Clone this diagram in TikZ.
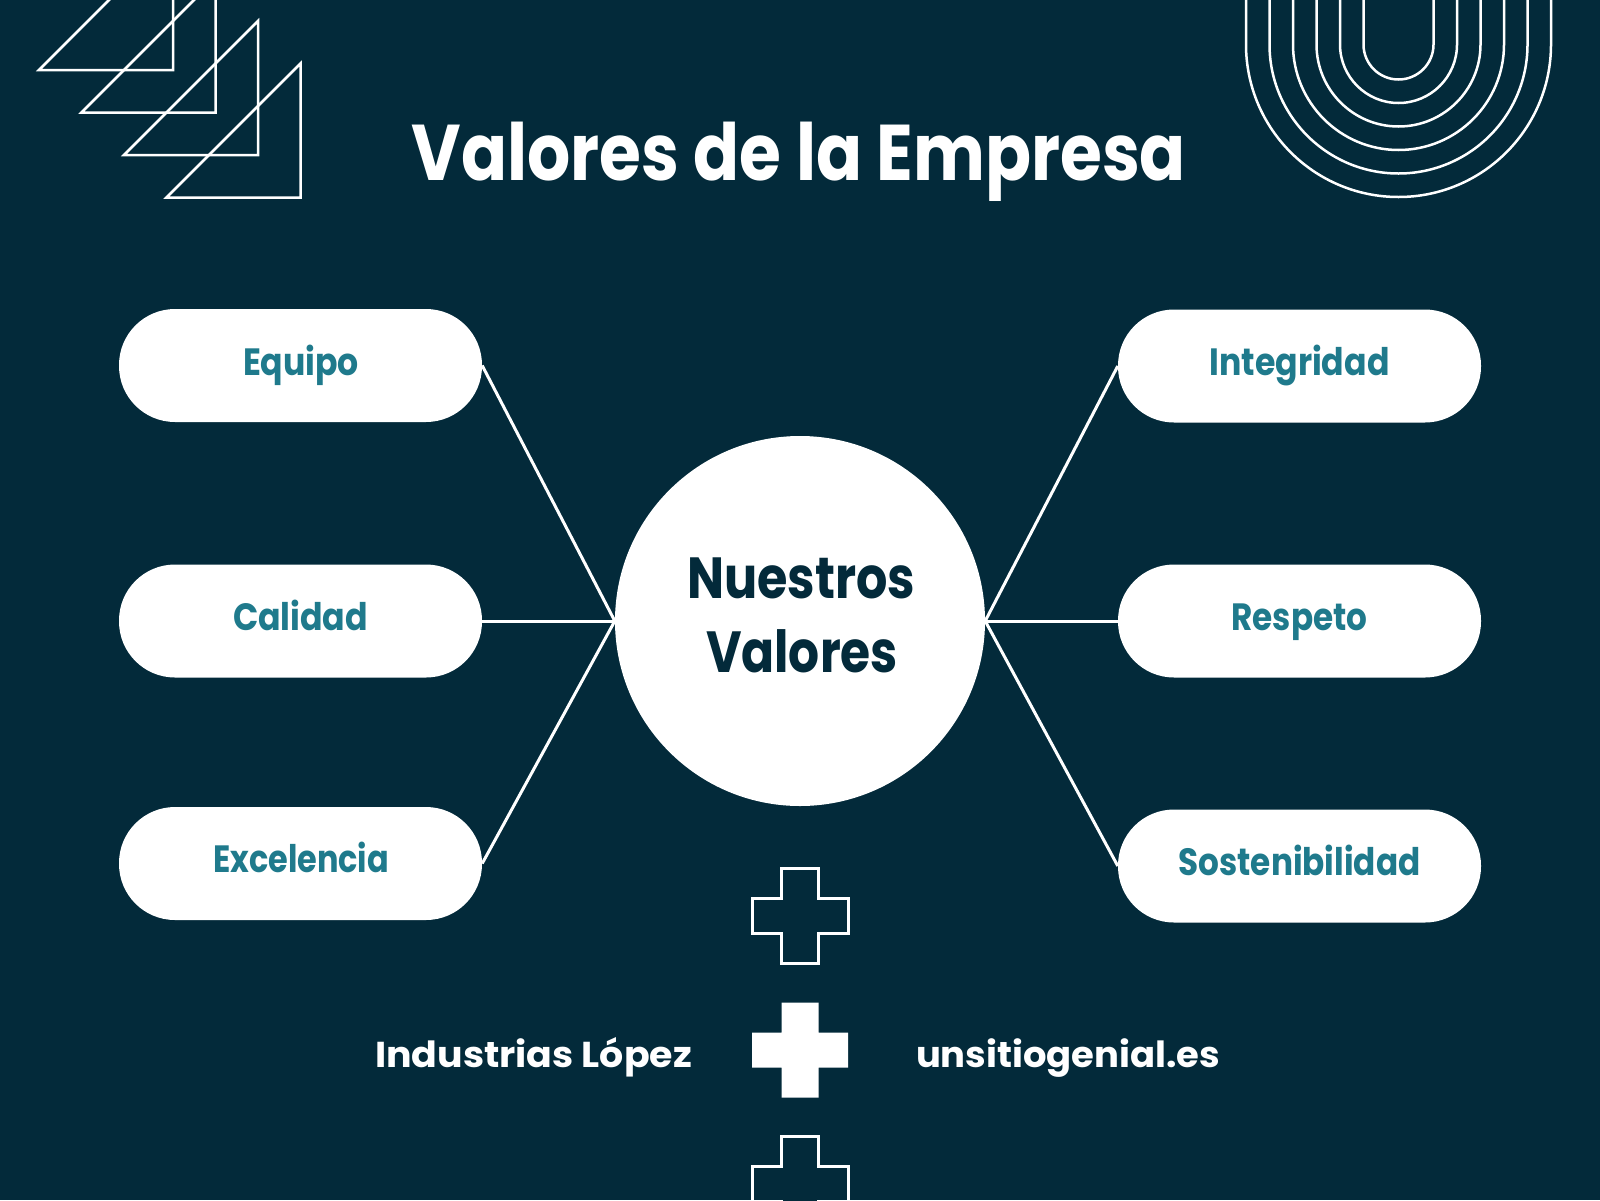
\documentclass[tikz,border=0pt]{standalone}
\usepackage{fontspec}
\setmainfont{Poppins}
\usepackage{graphicx}
\usetikzlibrary{calc}
\definecolor{bgnavy}{HTML}{032A3A}
\definecolor{valteal}{HTML}{1F7A8C}
\newcommand\fitw[2]{\resizebox{#1}{\height}{#2}}
\tikzset{
  deco/.style={draw=white, line width=2.5pt},
  conn/.style={draw=white, line width=3pt},
  pill/.style={fill=white, rounded corners=56pt, minimum width=363pt, minimum height=113pt, inner sep=0pt},
  plabel/.style={anchor=base, inner sep=0pt, text=valteal, font=\fontsize{38}{38}\selectfont\bfseries},
  hub/.style={circle, fill=white, minimum size=370pt, inner sep=0pt},
  hubtext/.style={anchor=base, inner sep=0pt, text=bgnavy, font=\fontsize{58}{58}\selectfont\bfseries},
  foot/.style={anchor=base, inner sep=0pt, text=white, font=\fontsize{36}{36}\selectfont\bfseries},
  crossshape/.pic={
    \path[pic actions] (-18.5,-47.5) -- (18.5,-47.5) -- (18.5,-17.5) -- (48,-17.5) -- (48,17.5)
      -- (18.5,17.5) -- (18.5,47.5) -- (-18.5,47.5) -- (-18.5,17.5) -- (-48,17.5)
      -- (-48,-17.5) -- (-18.5,-17.5) -- cycle;
  }
}
\begin{document}
\begin{tikzpicture}[x=1pt,y=-1pt]
\useasboundingbox (0,0) rectangle (1600,1200);
\fill[bgnavy] (0,0) rectangle (1600,1200);
\begin{scope}
\clip (0,0) rectangle (1600,1200);
% triangles top-left
\foreach \i in {0,1,2,3}{
  \draw[deco, line join=miter, shift={(42.5*\i,42.5*\i)}] (39,70) -- (173,70) -- (173,-64) -- cycle;
}
% U arcs top-right
\foreach \r in {35,58.5,82,105.5,129,152.5}{
  \draw[deco] (1398.5-\r,-5) -- (1398.5-\r,44.5) arc[start angle=180, end angle=0, radius=\r] -- (1398.5+\r,-5);
}
% crosses
\pic[draw=white, line width=3pt, fill=bgnavy] (c1) at (800,915.5) {crossshape};
\pic[fill=white] (c2) at (800,1050) {crossshape};
\pic[draw=white, line width=3pt, fill=bgnavy] (c3) at (800,1184) {crossshape};
\end{scope}

% title
\node[anchor=base, inner sep=0pt, text=white, font=\fontsize{79}{79}\selectfont\bfseries] (title) at (799,180) {\fitw{774pt}{Valores de la Empresa}};

% hub
\node[hub] (nv) at (800,621) {};
\node[hubtext] (nv1) at (801,598) {\fitw{228pt}{Nuestros}};
\node[hubtext] (nv2) at (802,672) {\fitw{192pt}{Valores}};

% pills
\node[pill] (eq) at (300.5,365.5) {};
\node[pill] (ca) at (300.5,621) {};
\node[pill] (ex) at (300.5,863.5) {};
\node[pill] (in) at (1299.5,366) {};
\node[pill] (re) at (1299.5,621) {};
\node[pill] (so) at (1299.5,866) {};

\node[plabel] (eqt) at (301,375) {\fitw{116pt}{Equipo}};
\node[plabel] (cat) at (300.5,630) {\fitw{135pt}{Calidad}};
\node[plabel] (ext) at (301,872) {\fitw{176pt}{Excelencia}};
\node[plabel] (int) at (1299.5,375) {\fitw{180pt}{Integridad}};
\node[plabel] (ret) at (1299.5,630) {\fitw{136pt}{Respeto}};
\node[plabel] (sot) at (1299.5,875) {\fitw{242pt}{Sostenibilidad}};

% connectors
\draw[conn] (eq.east) -- (nv.west);
\draw[conn] (ca.east) -- (nv.west);
\draw[conn] (ex.east) -- (nv.west);
\draw[conn] (in.west) -- (nv.east);
\draw[conn] (re.west) -- (nv.east);
\draw[conn] (so.west) -- (nv.east);

% footer
\node[foot] (company) at (533.5,1067) {\fitw{317pt}{Industrias López}};
\node[foot] (site) at (1068,1067) {\fitw{304pt}{unsitiogenial.es}};
\end{tikzpicture}
\end{document}
